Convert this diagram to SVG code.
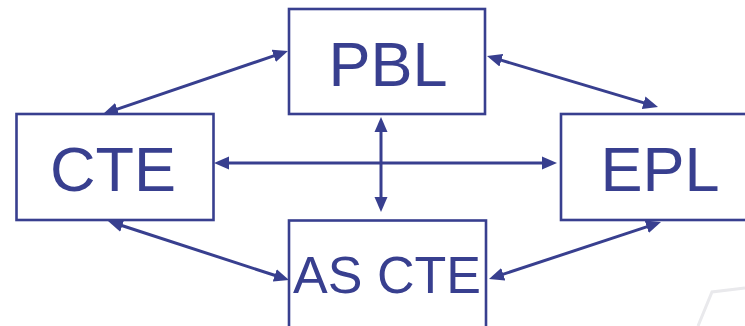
<svg xmlns="http://www.w3.org/2000/svg" width="745" height="326" viewBox="0 0 745 326">
  <style>
    .box { fill: #ffffff; stroke: #383f8f; stroke-width: 2.6; }
    .label { font-family: "Liberation Sans", Arial, sans-serif; fill: #383f8f; text-anchor: middle; }
    .link { stroke: #383f8f; stroke-width: 3; fill: none; marker-start: url(#head); marker-end: url(#head); }
    .backdrop { fill: none; stroke: #e9e9ec; stroke-width: 3; }
  </style>
  <defs>
    <marker id="head" markerUnits="userSpaceOnUse" viewBox="0 -7 15 14" refX="3" refY="0" markerWidth="15" markerHeight="14" orient="auto-start-reverse">
      <path d="M0,-6.5 L15,0 L0,6.5 z" fill="#383f8f"/>
    </marker>
  </defs>

  <rect width="745" height="326" fill="#ffffff"/>
  <!-- faint slide artwork in the corner -->
  <path class="backdrop" d="M698,326 L712,292 L745,288"/>

  <g id="connectors">
    <line class="link" x1="114.4" y1="110.1" x2="276.6" y2="54.9"/>
    <line class="link" x1="498.5" y1="59.4" x2="646.5" y2="103.6"/>
    <line class="link" x1="226" y1="163" x2="545" y2="163"/>
    <line class="link" x1="381" y1="129" x2="381" y2="200"/>
    <line class="link" x1="119.4" y1="224.7" x2="277.6" y2="276.3"/>
    <line class="link" x1="649.6" y1="225.8" x2="500.4" y2="275.2"/>
  </g>

  <g id="pbl">
    <rect class="box" x="289" y="9" width="196" height="105"/>
    <text class="label" x="388" y="85.5" font-size="63">PBL</text>
  </g>

  <g id="cte">
    <rect class="box" x="16.5" y="114" width="197" height="106"/>
    <text class="label" x="113" y="191" font-size="63">CTE</text>
  </g>

  <g id="epl">
    <rect class="box" x="561" y="114" width="190" height="106"/>
    <text class="label" x="660" y="191" font-size="63">EPL</text>
  </g>

  <g id="as-cte">
    <rect class="box" x="289" y="220.5" width="197" height="112"/>
    <text class="label" x="387" y="293" font-size="52">AS CTE</text>
  </g>
</svg>
